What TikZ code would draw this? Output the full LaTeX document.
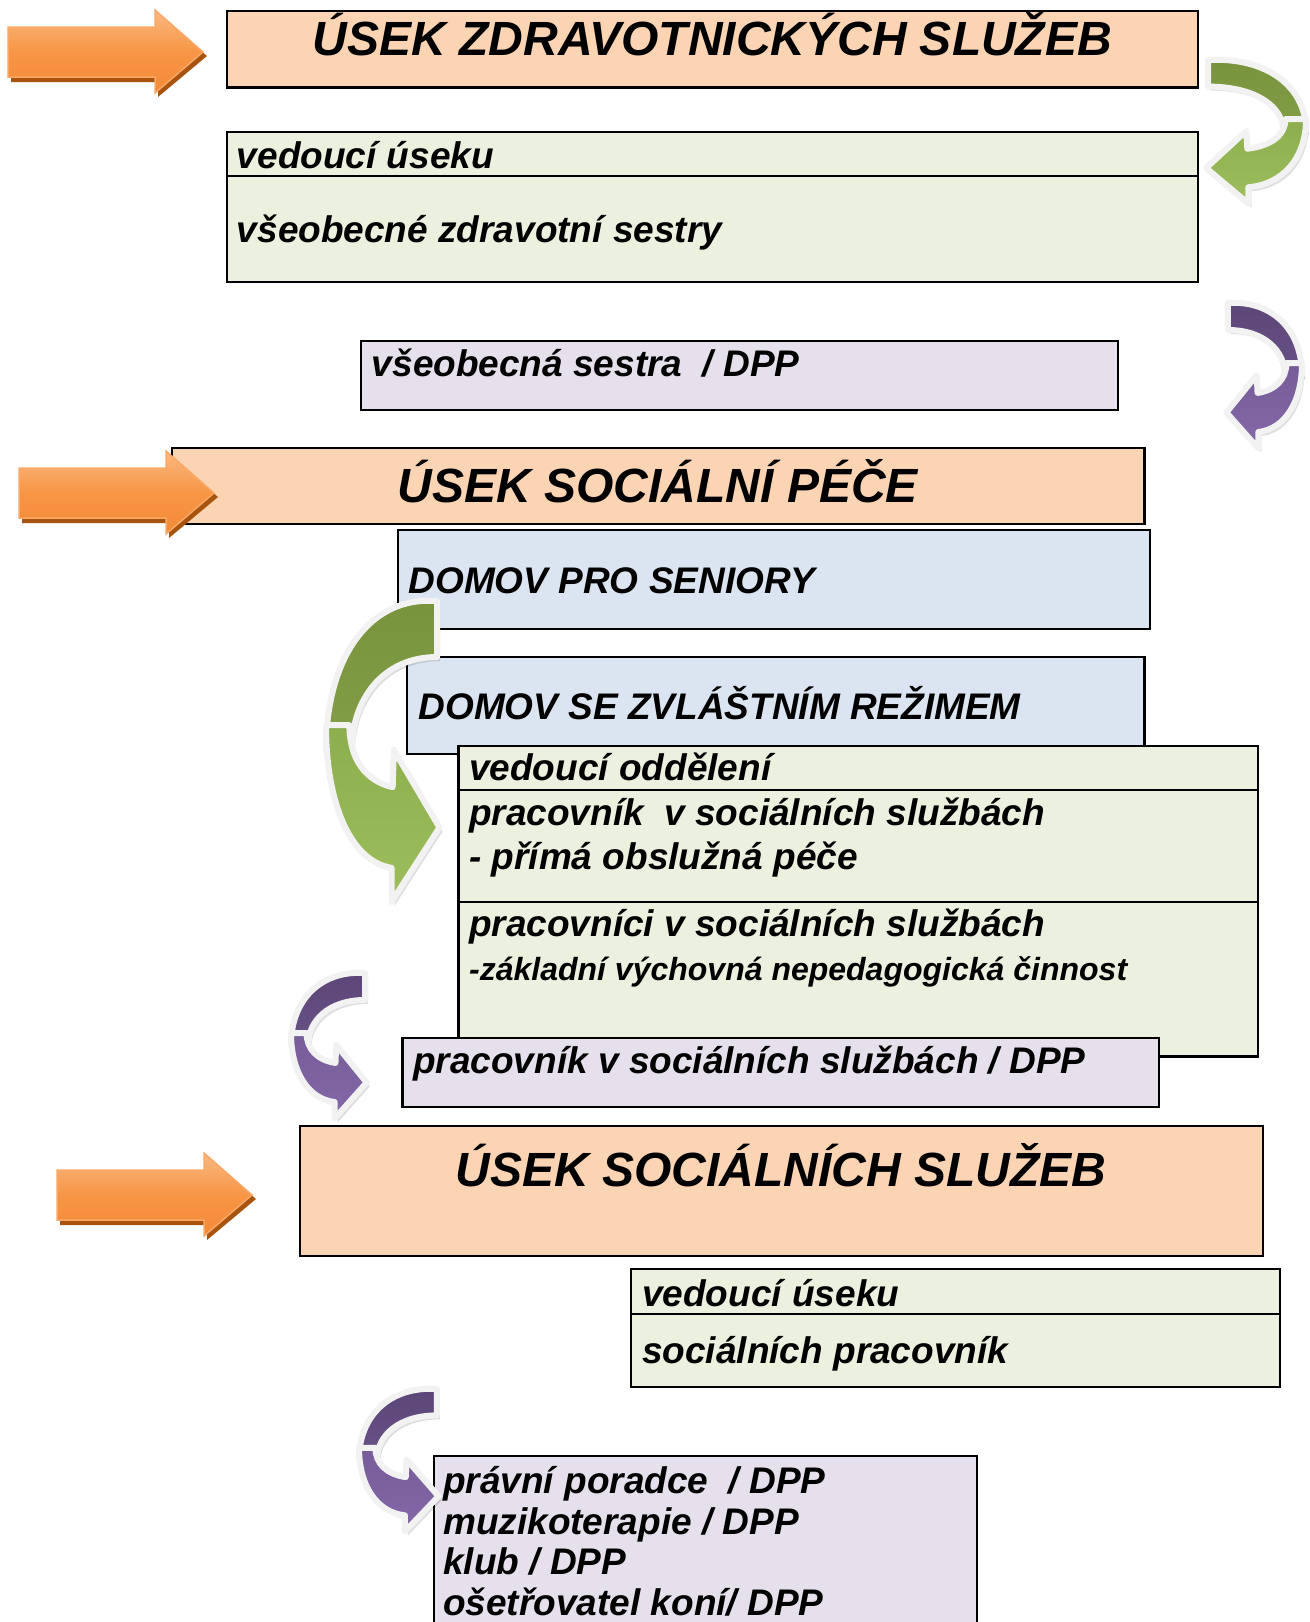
\documentclass[tikz,border=0pt]{standalone}
\usepackage{fontspec}
\setmainfont{Liberation Sans}
\definecolor{orgfill}{RGB}{251,212,180}
\definecolor{grnfill}{RGB}{235,241,222}
\definecolor{lavfill}{RGB}{229,224,236}
\definecolor{blufill}{RGB}{219,229,241}
\definecolor{grndark}{RGB}{119,147,60}
\definecolor{grndarkb}{RGB}{130,158,70}
\definecolor{grnlight}{RGB}{140,174,78}
\definecolor{grnlightb}{RGB}{158,190,92}
\definecolor{purdark}{RGB}{92,70,120}
\definecolor{purdarkb}{RGB}{104,82,134}
\definecolor{purlight}{RGB}{118,92,152}
\definecolor{purlightb}{RGB}{132,104,168}
\definecolor{arrtop}{RGB}{250,184,128}
\definecolor{arrmid}{RGB}{247,150,70}
\definecolor{arrbot}{RGB}{243,138,55}
\definecolor{arredge}{RGB}{249,168,104}
\definecolor{arrshadow}{RGB}{168,84,14}
\definecolor{outl}{RGB}{242,242,242}
\tikzset{
  bx/.style={draw=black, line width=2.2pt, inner sep=0pt, outer sep=0pt, anchor=north west},
  obox/.style={bx, fill=orgfill},
  gbox/.style={bx, fill=grnfill},
  lbox/.style={bx, fill=lavfill},
  bbox/.style={bx, fill=blufill},
  divline/.style={draw=black, line width=2.2pt},
  txt/.style={font=\fontsize{37}{41}\selectfont\bfseries\itshape, inner sep=0pt, anchor=base west},
  stxt/.style={font=\fontsize{32}{36}\selectfont\bfseries\itshape, inner sep=0pt, anchor=base west},
  htxt/.style={font=\fontsize{48}{52}\selectfont\bfseries\itshape, inner sep=0pt, anchor=base},
}
% curved arrow: #1 x, #2 y, #3 xscale, #4 yscale, #5/#6 back colours, #7/#8 front colours
\newcommand\crvarrow[8]{%
  \begin{scope}[shift={({#1+3},{#2+4})}, xscale=#3, yscale=#4]
    \fill[black, opacity=0.13] (0.05,0.02) .. controls (0.62,0.0) and (1.0,0.2) .. (1.0,0.5) -- (0.78,0.5) .. controls (0.78,0.34) and (0.52,0.2) .. (0.05,0.2) -- cycle;
    \fill[black, opacity=0.13] (1.0,0.42) .. controls (1.0,0.68) and (0.78,0.86) .. (0.44,0.88) -- (0.44,0.99) -- (0.03,0.75) -- (0.42,0.5) -- (0.43,0.62) .. controls (0.66,0.6) and (0.8,0.53) .. (0.8,0.42) -- cycle;
  \end{scope}
  \begin{scope}[shift={(#1,#2)}, xscale=#3, yscale=#4]
    \path[draw=outl, line width=6pt, line join=round, top color=#5, bottom color=#6] (0.05,0.02) .. controls (0.62,0.0) and (1.0,0.2) .. (1.0,0.5) -- (0.78,0.5) .. controls (0.78,0.34) and (0.52,0.2) .. (0.05,0.2) -- cycle;
    \path[draw=outl, line width=6pt, line join=round, top color=#7, bottom color=#8] (1.0,0.42) .. controls (1.0,0.68) and (0.78,0.86) .. (0.44,0.88) -- (0.44,0.99) -- (0.03,0.75) -- (0.42,0.5) -- (0.43,0.62) .. controls (0.66,0.6) and (0.8,0.53) .. (0.8,0.42) -- cycle;
  \end{scope}}
% block arrow: #1 x, #2 y
\newcommand\blockarrow[2]{%
  \begin{scope}[shift={(#1,#2)}]
    \fill[arrshadow] (3,21) -- (150,21) -- (150,4) -- (199,46) -- (150,87) -- (150,72) -- (3,72) -- cycle;
    \path[draw=arredge, line width=1.5pt, line join=miter, top color=arrtop, bottom color=arrbot, middle color=arrmid] (0,17) -- (147,17) -- (147,0) -- (195,42) -- (147,83) -- (147,67) -- (0,67) -- cycle;
  \end{scope}}
\begin{document}
\begin{tikzpicture}[x=1pt, y=-1pt]
\useasboundingbox (0,0) rectangle (1309,1622);
\clip (0,0) rectangle (1309,1622);
\fill[white] (0,0) rectangle (1309,1622);

% Úsek zdravotnických služeb
\node[obox, minimum width=971.6pt, minimum height=76.5pt] (h1) at (226.7,11) {};
\node[htxt] (h1t) at (712.5,55) {ÚSEK ZDRAVOTNICKÝCH SLUŽEB};

\node[gbox, minimum width=971.6pt, minimum height=149.4pt] (g1) at (226.7,132.3) {};
\draw[divline] (g1.west |- 0,175.7) -- (g1.east |- 0,175.7);
\node[txt] (g1a) at (236.7,168.5) {vedoucí úseku};
\node[txt] (g1b) at (236.7,242) {všeobecné zdravotní sestry};

\node[lbox, minimum width=756.6pt, minimum height=69pt] (l1) at (361,341) {};
\node[txt] (l1t) at (371.7,376.5) {všeobecná sestra~~/ DPP};

% Úsek sociální péče
\node[obox, minimum width=972.7pt, minimum height=76pt] (h2) at (171.8,448.3) {};
\node[htxt] (h2t) at (658,502.5) {ÚSEK SOCIÁLNÍ PÉČE};

\node[bbox, minimum width=751.7pt, minimum height=99.3pt] (b1) at (398,530) {};
\node[txt] (b1t) at (408.3,593.5) {DOMOV PRO SENIORY};

\node[bbox, minimum width=737.8pt, minimum height=97.6pt] (b2) at (406.7,656.7) {};
\node[txt] (b2t) at (418.3,719.5) {DOMOV SE ZVLÁŠTNÍM REŽIMEM};

\node[gbox, minimum width=799.8pt, minimum height=310.5pt] (g2) at (458.5,746) {};
\draw[divline] (g2.west |- 0,790) -- (g2.east |- 0,790);
\draw[divline] (g2.west |- 0,901.7) -- (g2.east |- 0,901.7);
\node[txt] (g2a) at (469,780.5) {vedoucí oddělení};
\node[txt] (g2b) at (469,825) {pracovník~~v sociálních službách};
\node[txt] (g2c) at (469,869) {- přímá obslužná péče};
\node[txt] (g2d) at (469,936.5) {pracovníci v sociálních službách};
\node[stxt] (g2e) at (469,980) {-základní výchovná nepedagogická činnost};

\node[lbox, minimum width=756.5pt, minimum height=69pt] (l2) at (402.5,1037.7) {};
\node[txt] (l2t) at (413,1073.5) {pracovník v sociálních službách / DPP};

% Úsek sociálních služeb
\node[obox, minimum width=963pt, minimum height=130pt] (h3) at (299.6,1126) {};
\node[htxt] (h3t) at (781,1186) {ÚSEK SOCIÁLNÍCH SLUŽEB};

\node[gbox, minimum width=648.6pt, minimum height=117.4pt] (g3) at (631.2,1269.3) {};
\draw[divline] (g3.west |- 0,1314.3) -- (g3.east |- 0,1314.3);
\node[txt] (g3a) at (642,1306.5) {vedoucí úseku};
\node[txt] (g3b) at (642,1363.5) {sociálních pracovník};

\node[lbox, minimum width=542.9pt, minimum height=200pt] (l3) at (433.7,1456) {};
\node[txt] (l3a) at (443,1493) {právní poradce~~/ DPP};
\node[txt] (l3b) at (443,1534) {muzikoterapie / DPP};
\node[txt] (l3c) at (443,1574.5) {klub / DPP};
\node[txt] (l3d) at (443,1615) {ošetřovatel koní/ DPP};

% orange block arrows
\blockarrow{8}{10}
\blockarrow{19}{451}
\blockarrow{57}{1153}

% curved arrows
\crvarrow{1203}{57}{103}{148}{grndark}{grndarkb}{grnlight}{grnlightb}
\crvarrow{1224}{300}{78}{150}{purdark}{purdarkb}{purlight}{purlightb}
\crvarrow{443}{595}{-117}{310}{grndark}{grndarkb}{grnlight}{grnlightb}
\crvarrow{369}{970}{-78}{150}{purdark}{purdarkb}{purlight}{purlightb}
\crvarrow{441}{1386}{-82}{147}{purdark}{purdarkb}{purlight}{purlightb}
\end{tikzpicture}
\end{document}
